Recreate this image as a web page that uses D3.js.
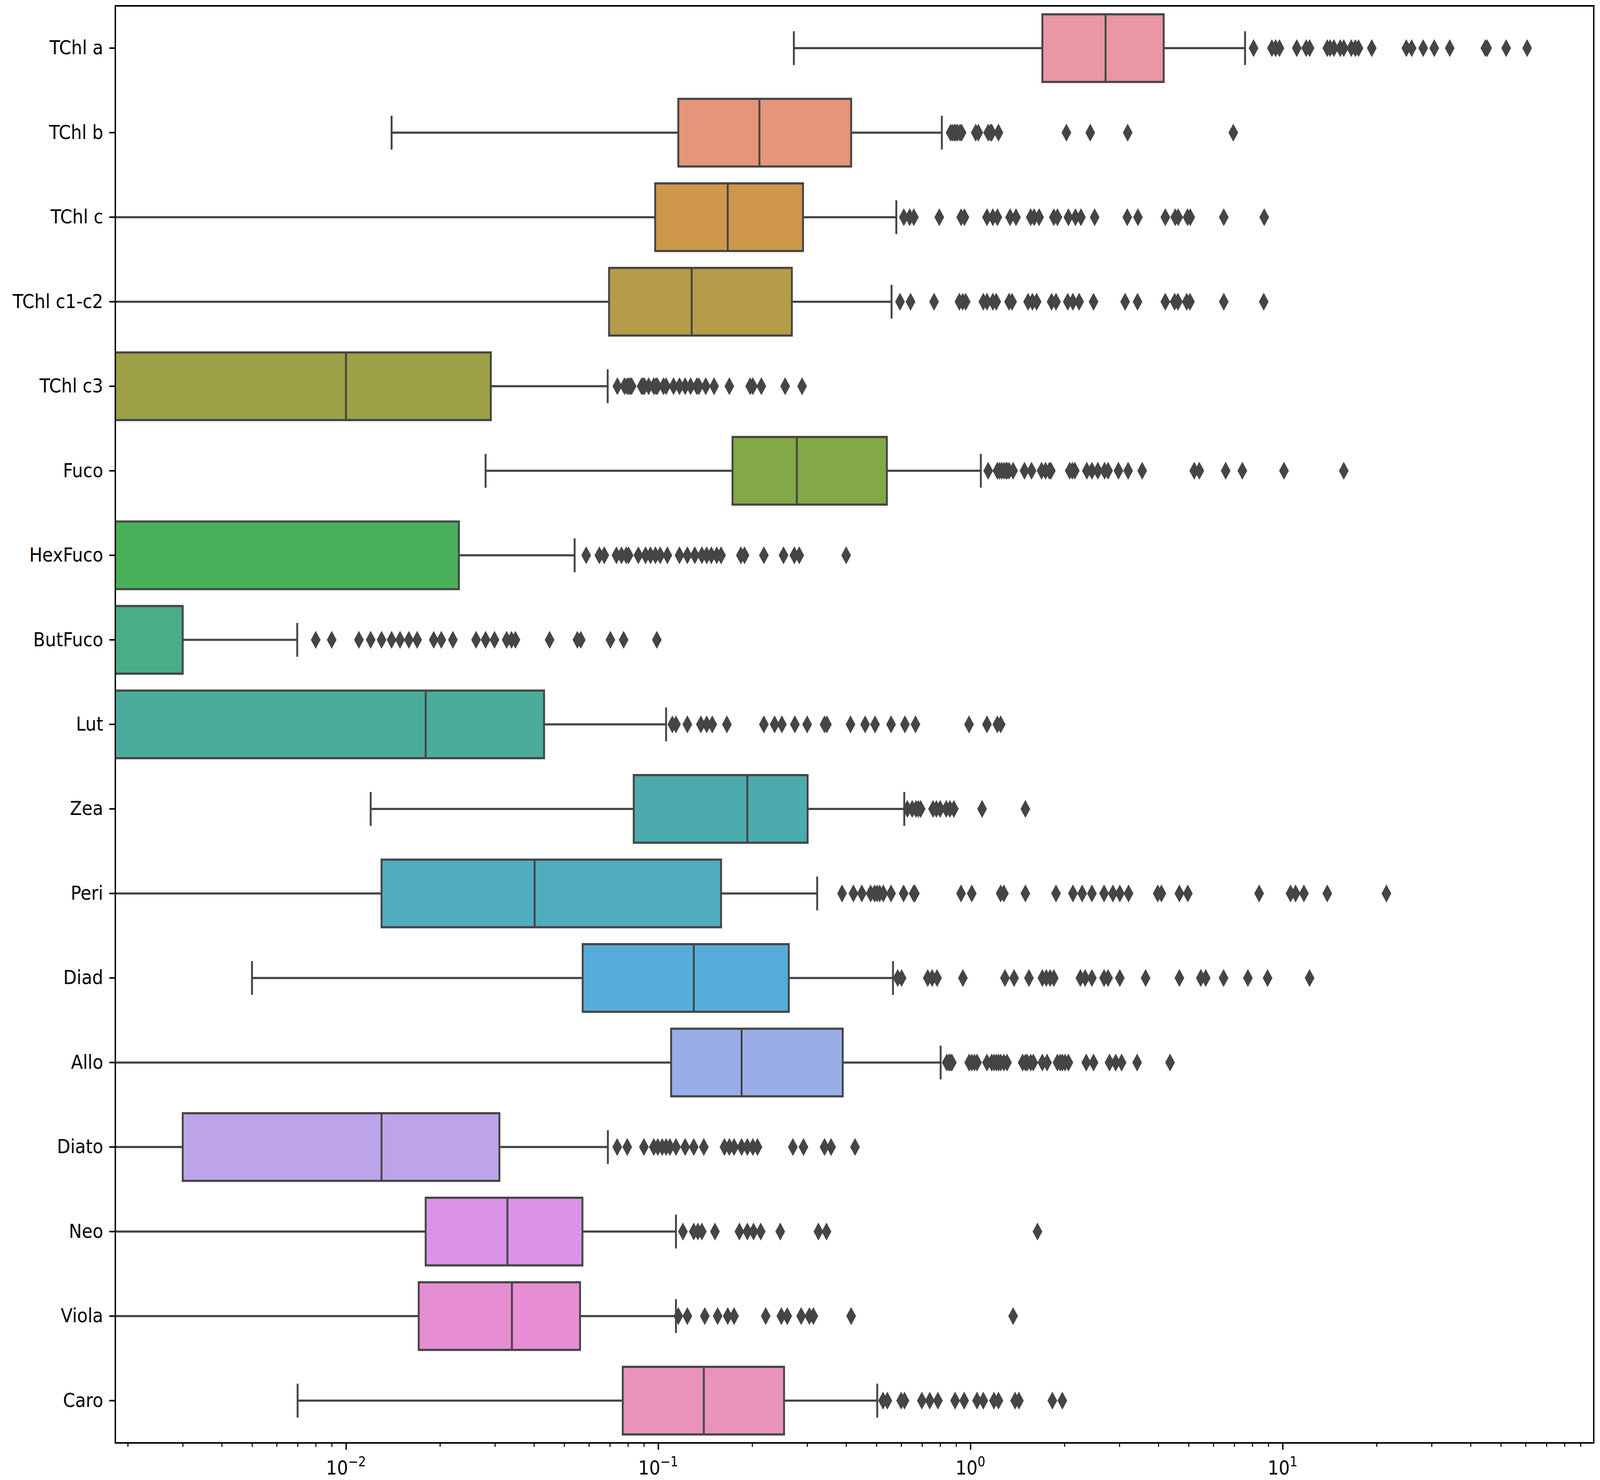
<!DOCTYPE html>
<html>
<head>
<meta charset="utf-8">
<script src="https://cdn.jsdelivr.net/npm/d3@7"></script>
<style>
  html, body { margin: 0; padding: 0; background: #fff; overflow: hidden; }
  #chart svg { display: block; width: 100vw; height: 100vh; }
  text { font-family: "DejaVu Sans", sans-serif; fill: #000; }
</style>
</head>
<body>
<div id="chart"></div>
<script>
// pigment names, top to bottom
const categories = ["TChl a", "TChl b", "TChl c", "TChl c1-c2", "TChl c3", "Fuco", "HexFuco", "ButFuco",
  "Lut", "Zea", "Peri", "Diad", "Allo", "Diato", "Neo", "Viola", "Caro"];

// box statistics (0 = off the log axis)
const whiskerLow  = [0.272, 0.0140, 0, 0, 0, 0.0280, 0, 0, 0, 0.0120, 0, 0.0050, 0, 0, 0, 0, 0.0070];
const q1          = [1.70, 0.116, 0.0978, 0.0696, 0, 0.173, 0, 0, 0, 0.0835, 0.0130, 0.0573, 0.110, 0.0030, 0.0180, 0.0171, 0.0770];
const medians     = [2.71, 0.211, 0.167, 0.128, 0.0100, 0.278, 0, 0, 0.0180, 0.193, 0.0402, 0.130, 0.185, 0.0130, 0.0329, 0.0340, 0.140];
const q3          = [4.16, 0.415, 0.291, 0.268, 0.0291, 0.540, 0.0230, 0.0030, 0.0431, 0.301, 0.159, 0.262, 0.390, 0.0310, 0.0572, 0.0562, 0.253];
const whiskerHigh = [7.58, 0.81, 0.579, 0.559, 0.0689, 1.08, 0.0540, 0.00698, 0.106, 0.614, 0.323, 0.565, 0.803, 0.0690, 0.114, 0.114, 0.503];

const outliers = [
  [8.07, 9.24, 9.5, 9.77, 11.1, 11.9, 12.2, 13.9, 14.2, 14.6, 15.3, 15.7, 16.6, 17.1, 17.5, 19.3, 24.9, 25.9, 28.2, 30.6, 34.3, 44.6, 45.2, 52.0, 60.7],
  [0.864, 0.876, 0.889, 0.898, 0.91, 0.926, 0.937, 1.04, 1.06, 1.14, 1.16, 1.17, 1.23, 2.03, 2.42, 3.19, 6.95],
  [0.612, 0.639, 0.659, 0.795, 0.934, 0.957, 1.13, 1.18, 1.22, 1.34, 1.40, 1.56, 1.60, 1.66, 1.85, 1.90, 2.06, 2.17, 2.26, 2.50, 3.18, 3.44, 4.21, 4.53, 4.63, 4.96, 5.06, 6.48, 8.73],
  [0.595, 0.643, 0.765, 0.922, 0.945, 0.966, 1.10, 1.13, 1.18, 1.21, 1.33, 1.36, 1.53, 1.58, 1.63, 1.82, 1.88, 2.05, 2.13, 2.23, 2.48, 3.13, 3.43, 4.21, 4.51, 4.62, 4.93, 5.05, 6.48, 8.70],
  [0.0740, 0.0780, 0.0795, 0.0805, 0.0814, 0.0822, 0.0885, 0.0894, 0.0903, 0.0932, 0.0968, 0.0983, 0.0993, 0.104, 0.106, 0.112, 0.117, 0.122, 0.127, 0.133, 0.135, 0.142, 0.151, 0.169, 0.197, 0.201, 0.214, 0.255, 0.289],
  [1.14, 1.22, 1.24, 1.26, 1.28, 1.30, 1.31, 1.33, 1.37, 1.49, 1.57, 1.69, 1.74, 1.79, 1.81, 2.08, 2.12, 2.16, 2.36, 2.45, 2.56, 2.69, 2.76, 2.98, 3.20, 3.55, 5.21, 5.41, 6.57, 7.43, 10.1, 15.7],
  [0.0588, 0.0648, 0.0672, 0.0735, 0.0763, 0.0790, 0.0804, 0.0864, 0.0911, 0.0945, 0.0980, 0.1015, 0.107, 0.117, 0.124, 0.131, 0.138, 0.143, 0.148, 0.154, 0.159, 0.184, 0.189, 0.218, 0.252, 0.273, 0.283, 0.400],
  [0.0080, 0.0090, 0.0110, 0.0120, 0.0130, 0.0140, 0.0149, 0.0159, 0.0169, 0.0191, 0.0202, 0.0220, 0.0261, 0.0280, 0.0299, 0.0327, 0.0339, 0.0349, 0.0449, 0.0551, 0.0565, 0.0703, 0.0775, 0.0990],
  [0.111, 0.114, 0.124, 0.137, 0.143, 0.149, 0.166, 0.218, 0.236, 0.249, 0.274, 0.300, 0.341, 0.347, 0.413, 0.460, 0.495, 0.557, 0.617, 0.667, 0.990, 1.13, 1.22, 1.25],
  [0.628, 0.651, 0.669, 0.681, 0.693, 0.759, 0.778, 0.800, 0.837, 0.860, 0.885, 1.09, 1.50],
  [0.388, 0.422, 0.449, 0.479, 0.493, 0.502, 0.512, 0.526, 0.557, 0.611, 0.658, 0.664, 0.933, 1.01, 1.25, 1.28, 1.50, 1.88, 2.13, 2.28, 2.45, 2.68, 2.86, 3.01, 3.21, 3.98, 4.09, 4.67, 4.97, 8.41, 10.6, 11.0, 11.7, 13.9, 21.5],
  [0.585, 0.602, 0.730, 0.754, 0.782, 0.946, 1.29, 1.38, 1.54, 1.70, 1.75, 1.80, 1.85, 2.25, 2.33, 2.45, 2.68, 2.76, 3.01, 3.64, 4.67, 5.47, 5.67, 6.47, 7.74, 8.95, 12.2],
  [0.840, 0.853, 0.862, 0.872, 0.991, 1.01, 1.03, 1.05, 1.13, 1.17, 1.19, 1.21, 1.23, 1.25, 1.28, 1.31, 1.47, 1.50, 1.52, 1.56, 1.59, 1.70, 1.76, 1.90, 1.94, 1.97, 2.01, 2.06, 2.35, 2.48, 2.79, 2.92, 3.05, 3.42, 4.36],
  [0.0739, 0.0796, 0.0900, 0.0968, 0.0997, 0.103, 0.106, 0.109, 0.114, 0.122, 0.130, 0.140, 0.163, 0.169, 0.175, 0.185, 0.193, 0.201, 0.208, 0.270, 0.292, 0.341, 0.358, 0.427],
  [0.120, 0.130, 0.134, 0.138, 0.152, 0.182, 0.193, 0.202, 0.213, 0.246, 0.326, 0.346, 1.64],
  [0.116, 0.124, 0.141, 0.155, 0.167, 0.175, 0.221, 0.248, 0.259, 0.287, 0.305, 0.314, 0.415, 1.37],
  [0.525, 0.542, 0.600, 0.615, 0.699, 0.741, 0.787, 0.893, 0.955, 1.05, 1.10, 1.19, 1.23, 1.39, 1.43, 1.83, 1.97]
];

const majorTicks = [0.01, 0.1, 1, 10];
const majorExponents = ["\u22122", "\u22121", "0", "1"];

// ---- seaborn-like husl palette ----
const M = [[3.2406, -1.5372, -0.4986], [-0.9689, 1.8758, 0.0415], [0.0557, -0.2040, 1.0570]];
function maxChroma(L, H) {
  const hr = H / 180 * Math.PI, sinH = Math.sin(hr), cosH = Math.cos(hr);
  const sub1 = Math.pow(L + 16, 3) / 1560896;
  const sub2 = sub1 > 0.008856 ? sub1 : L / 903.3;
  let result = Infinity;
  M.forEach(([m1, m2, m3]) => {
    const tp = (0.99915 * m1 + 1.05122 * m2 + 1.14460 * m3) * sub2;
    const rb = 0.86330 * m3 - 0.17266 * m2;
    const lb = 0.12949 * m3 - 0.38848 * m1;
    const bt = (rb * sinH + lb * cosH) * sub2;
    [0, 1].forEach(t => {
      const C = L * (tp - 1.05122 * t) / (bt + 0.17266 * sinH * t);
      if (C > 0 && C < result) result = C;
    });
  });
  return result;
}
function huslToRgb(H, S, L) {
  const C = maxChroma(L, H) / 100 * S;
  const hr = H / 180 * Math.PI;
  const U = Math.cos(hr) * C, V = Math.sin(hr) * C;
  const t = (L + 16) / 116;
  const Y = Math.pow(t, 3) > 0.008856 ? Math.pow(t, 3) : (116 * t - 16) / 903.3;
  const vu = U / (13 * L) + 0.19784, vv = V / (13 * L) + 0.46834;
  const X = -(9 * Y * vu) / ((vu - 4) * vv - vu * vv);
  const Z = (9 * Y - 15 * vv * Y - vv * X) / (3 * vv);
  return M.map(r => {
    const c = r[0] * X + r[1] * Y + r[2] * Z;
    const g = c <= 0.0031308 ? 12.92 * c : 1.055 * Math.pow(c, 1 / 2.4) - 0.055;
    return Math.max(0, Math.min(1, g));
  });
}
const nCat = categories.length;
const colors = d3.range(nCat).map(i => {
  const h = ((i / nCat + 0.01) % 1) * 359;
  const [r, g, b] = huslToRgb(h, 0.9 * 99, 0.7 * 99);
  const c = d3.hsl(d3.rgb(r * 255, g * 255, b * 255));
  c.s *= 0.75;
  return c;
});
const lum = d3.min(colors, c => c.l) * 0.6;
const gray = d3.rgb(lum * 255, lum * 255, lum * 255).formatHex();

// ---- layout ----
const W = 4606, H = 3790;
const plotLeft = 332, plotRight = 4588, plotTop = 15, plotBottom = 3695;

const svg = d3.select("#chart").append("svg")
  .attr("viewBox", `0 0 ${W} ${H}`)
  .attr("preserveAspectRatio", "none")
  .style("background", "#fff");

const x = d3.scaleLog().domain([0.001825, 99.2]).range([plotLeft, plotRight]);
const y = d3.scaleBand().domain(categories).range([plotTop, plotBottom]).padding(0);
const px = v => v > 0 ? x(v) : plotLeft - 80;
const boxH = y.bandwidth() * 0.8;
const capH = boxH * 0.5;
const lw = 5.5;

svg.append("clipPath").attr("id", "plotclip")
  .append("rect").attr("x", plotLeft).attr("y", plotTop)
  .attr("width", plotRight - plotLeft).attr("height", plotBottom - plotTop);

const plot = svg.append("g").attr("clip-path", "url(#plotclip)");

categories.forEach((cat, i) => {
  const cy = y(cat) + y.bandwidth() / 2;
  const g = plot.append("g").attr("class", "box");

  g.append("rect")
    .attr("x", px(q1[i])).attr("y", cy - boxH / 2)
    .attr("width", px(q3[i]) - px(q1[i])).attr("height", boxH)
    .attr("fill", colors[i]).attr("stroke", gray).attr("stroke-width", lw);

  // whiskers
  [[whiskerLow[i], q1[i]], [q3[i], whiskerHigh[i]]].forEach(([a, b]) => {
    g.append("line")
      .attr("x1", px(a)).attr("x2", px(b)).attr("y1", cy).attr("y2", cy)
      .attr("stroke", gray).attr("stroke-width", lw);
  });
  // caps
  [whiskerLow[i], whiskerHigh[i]].forEach(v => {
    g.append("line")
      .attr("x1", px(v)).attr("x2", px(v)).attr("y1", cy - capH / 2).attr("y2", cy + capH / 2)
      .attr("stroke", gray).attr("stroke-width", lw);
  });
  // median
  g.append("line")
    .attr("x1", px(medians[i])).attr("x2", px(medians[i]))
    .attr("y1", cy - boxH / 2).attr("y2", cy + boxH / 2)
    .attr("stroke", gray).attr("stroke-width", lw);

  // fliers (thin diamonds)
  g.selectAll("path.flier")
    .data(outliers[i])
    .join("path").attr("class", "flier")
    .attr("transform", d => `translate(${px(d)},${cy})`)
    .attr("d", "M0,-23L14,0L0,23L-14,0Z")
    .attr("fill", gray);
});

// ---- axes ----
const minorTicks = x.ticks().filter(t => !majorTicks.some(m => Math.abs(m - t) < t * 1e-6));

const xMinor = svg.append("g").attr("transform", `translate(0,${plotBottom})`)
  .call(d3.axisBottom(x).tickValues(minorTicks).tickSize(10).tickFormat(() => ""));
xMinor.select(".domain").remove();
xMinor.selectAll(".tick line").attr("stroke", "#000").attr("stroke-width", 3);

const xMajor = svg.append("g").attr("transform", `translate(0,${plotBottom})`)
  .call(d3.axisBottom(x).tickValues(majorTicks).tickSize(17.5).tickFormat(() => ""));
xMajor.select(".domain").remove();
xMajor.selectAll(".tick line").attr("stroke", "#000").attr("stroke-width", 4);
xMajor.selectAll(".tick text").remove();

svg.append("g").selectAll("text.xlab")
  .data(majorTicks)
  .join("text").attr("class", "xlab")
  .attr("x", d => x(d)).attr("y", 3776)
  .attr("text-anchor", "middle")
  .style("font-size", "50px")
  .each(function(d, i) {
    const t = d3.select(this);
    t.append("tspan").text("10");
    t.append("tspan").attr("dy", -21).style("font-size", "35px").text(majorExponents[i]);
  });

const yAxis = svg.append("g").attr("transform", `translate(${plotLeft},0)`)
  .call(d3.axisLeft(y).tickSize(17.5).tickPadding(17.5));
yAxis.select(".domain").remove();
yAxis.selectAll(".tick line").attr("stroke", "#000").attr("stroke-width", 4);
yAxis.selectAll(".tick text")
  .style("font-size", "50px")
  .style("font-family", "'DejaVu Sans', sans-serif")
  .attr("fill", "#000");

// frame
svg.append("rect")
  .attr("x", plotLeft).attr("y", plotTop)
  .attr("width", plotRight - plotLeft).attr("height", plotBottom - plotTop)
  .attr("fill", "none").attr("stroke", "#000").attr("stroke-width", 4);
</script>
</body>
</html>
